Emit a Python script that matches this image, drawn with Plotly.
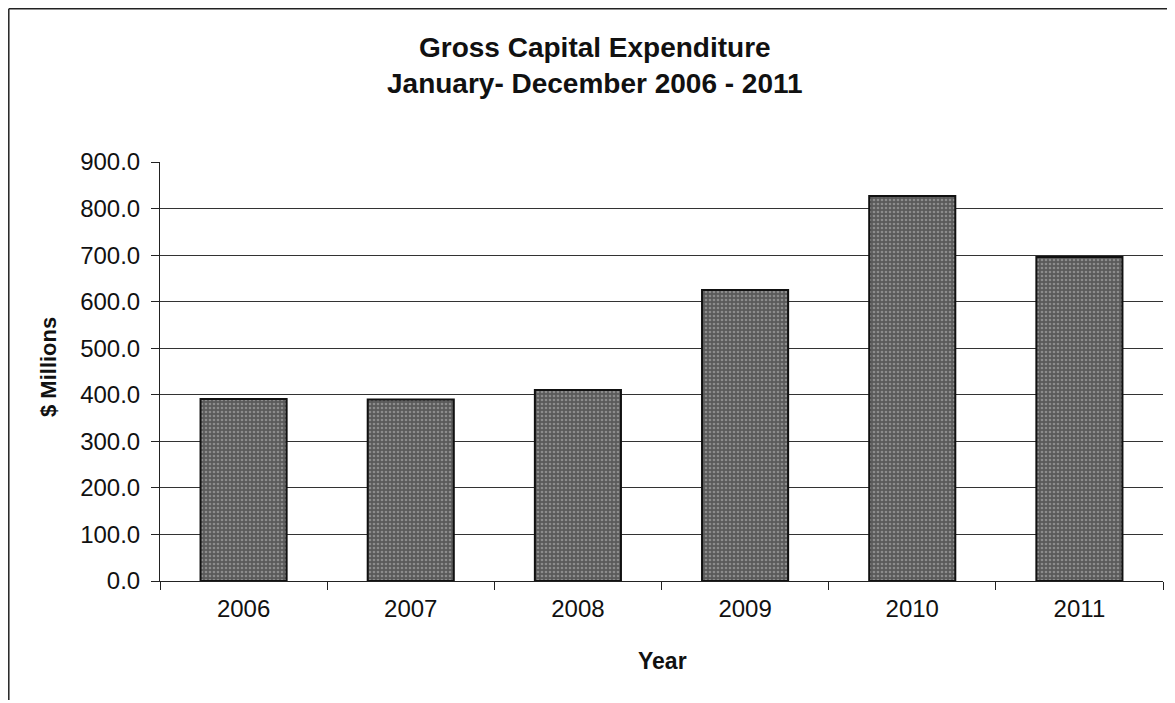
import plotly.graph_objects as go

years = ["2006", "2007", "2008", "2009", "2010", "2011"]
expenditure = [391.0, 390.0, 410.0, 625.0, 827.0, 696.0]
y_ticks = [0, 100, 200, 300, 400, 500, 600, 700, 800, 900]
y_tick_labels = ["0.0", "100.0", "200.0", "300.0", "400.0", "500.0", "600.0", "700.0", "800.0", "900.0"]
title_lines = ["Gross Capital Expenditure", "January- December 2006 - 2011"]

# page is rendered with an 8px body margin; work in page pixels and convert
OFF = 8
W, H = 1175 - OFF, 703 - OFF
PL, PR, PT, PB = 160, 1163, 162, 581  # plot area in page pixels
L, T = PL - OFF, PT - OFF
R, B = W - (PR - OFF), H - (PB - OFF)
pw, ph = PR - PL, PB - PT

def px_x(p):
    return (p - PL) / pw

def px_y(p):
    return (PB - p) / ph

FONT = "Liberation Sans, Arial, sans-serif"

fig = go.Figure()
fig.add_trace(go.Bar(
    x=years, y=expenditure, width=0.515,
    marker=dict(
        color="#6a6a6a",
        line=dict(color="#111111", width=2),
        pattern=dict(shape=".", fgcolor="#bdbdbd", bgcolor="#5a5a5a", size=4, solidity=0.35),
    ),
    showlegend=False,
))

fig.update_layout(
    width=W, height=H,
    margin=dict(l=L, r=R, t=T, b=B),
    paper_bgcolor="white", plot_bgcolor="white",
    font=dict(family=FONT, color="#111111"),
    xaxis=dict(
        type="category",
        showline=True, linecolor="#222222", linewidth=1,
        ticks="outside", tickson="boundaries", ticklen=8, tickcolor="#222222",
        tickfont=dict(size=24, family=FONT, color="#111111"),
        ticklabelstandoff=6,
        showgrid=False,
    ),
    yaxis=dict(
        range=[0, 900],
        tickvals=y_ticks, ticktext=y_tick_labels,
        showline=True, linecolor="#222222", linewidth=1,
        ticks="outside", ticklen=8, tickcolor="#222222",
        tickfont=dict(size=24, family=FONT, color="#111111"),
        ticklabelstandoff=6,
        showgrid=True, gridcolor="#333333", gridwidth=1,
        zeroline=False,
    ),
)

# Title lines
fig.add_annotation(text="<b>" + title_lines[0] + "</b>", xref="paper", yref="paper",
                   x=px_x(595), y=px_y(48), xanchor="center", yanchor="middle",
                   showarrow=False, font=dict(size=28, family=FONT, color="#111111"))
fig.add_annotation(text="<b>" + title_lines[1] + "</b>", xref="paper", yref="paper",
                   x=px_x(595), y=px_y(84), xanchor="center", yanchor="middle",
                   showarrow=False, font=dict(size=28, family=FONT, color="#111111"))

# Axis titles
fig.add_annotation(text="<b>Year</b>", xref="paper", yref="paper",
                   x=px_x(662), y=px_y(661), xanchor="center", yanchor="middle",
                   showarrow=False, font=dict(size=23, family=FONT, color="#111111"))
fig.add_annotation(text="<b>$ Millions</b>", xref="paper", yref="paper",
                   x=px_x(48), y=px_y(367), xanchor="center", yanchor="middle",
                   textangle=-90, showarrow=False,
                   font=dict(size=22, family=FONT, color="#111111"))

# Outer chart-area border (left and top edges visible)
fig.add_shape(type="line", xref="paper", yref="paper",
              x0=px_x(8.8), y0=px_y(700), x1=px_x(8.8), y1=px_y(8.8),
              line=dict(color="#222222", width=1.5))
fig.add_shape(type="line", xref="paper", yref="paper",
              x0=px_x(8.8), y0=px_y(8.8), x1=px_x(1175), y1=px_y(8.8),
              line=dict(color="#222222", width=1.5))

fig.write_html("out.html")
